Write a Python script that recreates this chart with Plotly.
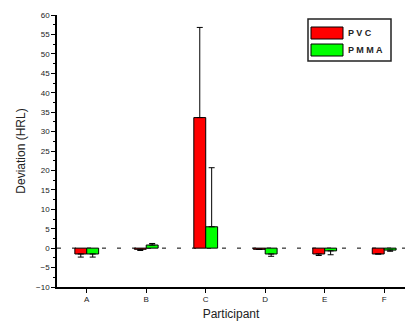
import plotly.graph_objects as go

# Deviation per participant, with one-sided error bars
participants = ["A", "B", "C", "D", "E", "F"]
pvc = [-1.5, -0.3, 33.6, -0.3, -1.5, -1.5]
pvc_err = [0.8, 0.3, 23.2, 0.0, 0.4, 0.0]
pmma = [-1.5, 0.8, 5.5, -1.5, -0.7, -0.5]
pmma_err = [0.8, 0.4, 15.2, 0.6, 1.0, 0.3]

W, H = 405, 327
L, R, T, B = 57, 0, 15, 40
PW, PH = W - L - R, H - T - B


def px(x):
    return (x - L) / PW


def py(y):
    return 1 - (y - T) / PH


def err_dict(vals, errs):
    up = [e if v >= 0 else 0 for v, e in zip(vals, errs)]
    down = [e if v < 0 else 0 for v, e in zip(vals, errs)]
    return dict(type="data", symmetric=False, array=up, arrayminus=down,
                color="black", thickness=1, width=3)


fig = go.Figure()
fig.add_trace(go.Bar(x=participants, y=pvc, name="PVC",
                     marker=dict(color="#FF0000", line=dict(color="black", width=1)),
                     error_y=err_dict(pvc, pvc_err), showlegend=False))
fig.add_trace(go.Bar(x=participants, y=pmma, name="PMMA",
                     marker=dict(color="#00FF00", line=dict(color="black", width=1)),
                     error_y=err_dict(pmma, pmma_err), showlegend=False))

shapes = [
    # dashed zero line
    dict(type="line", xref="paper", yref="y", x0=0, x1=1, y0=0, y1=0,
         line=dict(color="black", width=1, dash="4px,11px"), layer="below"),
    # legend frame and swatches
    dict(type="rect", xref="paper", yref="paper", x0=px(308), x1=px(391),
         y0=py(61), y1=py(19), line=dict(color="#222222", width=1.5), fillcolor="white"),
    dict(type="rect", xref="paper", yref="paper", x0=px(311), x1=px(343),
         y0=py(39), y1=py(27), line=dict(color="black", width=1), fillcolor="#FF0000"),
    dict(type="rect", xref="paper", yref="paper", x0=px(311), x1=px(343),
         y0=py(56), y1=py(44), line=dict(color="black", width=1), fillcolor="#00FF00"),
]

annotations = [
    dict(text="<b>P V C</b>", xref="paper", yref="paper", x=px(346), y=py(33),
         xanchor="left", yanchor="middle", showarrow=False,
         font=dict(family="Liberation Sans, Arial", size=9, color="#222")),
    dict(text="<b>P M M A</b>", xref="paper", yref="paper", x=px(346), y=py(50),
         xanchor="left", yanchor="middle", showarrow=False,
         font=dict(family="Liberation Sans, Arial", size=9, color="#222")),
]

fig.update_layout(
    width=W, height=H,
    margin=dict(l=L, r=R, t=T, b=B),
    paper_bgcolor="white", plot_bgcolor="white",
    barmode="group", bargap=0.6, bargroupgap=0,
    font=dict(family="Liberation Sans, Arial", color="#222", size=8),
    shapes=shapes, annotations=annotations,
    xaxis=dict(range=[-0.5, 5.35], showline=True, linecolor="black", linewidth=1.5,
               ticks="outside", ticklen=4, tickcolor="black", showgrid=False,
               zeroline=False, tickfont=dict(size=8),
               title=dict(text="Participant", font=dict(size=12), standoff=6)),
    yaxis=dict(range=[-10, 60], showline=True, linecolor="black", linewidth=1.5,
               ticks="outside", ticklen=4, tickcolor="black", dtick=5, tick0=0,
               showgrid=False, zeroline=False, tickfont=dict(size=8),
               minor=dict(dtick=2.5, ticks="outside", ticklen=2, tickcolor="black"),
               title=dict(text="Deviation (HRL)", font=dict(size=12), standoff=8)),
)

fig.write_html("out.html")
